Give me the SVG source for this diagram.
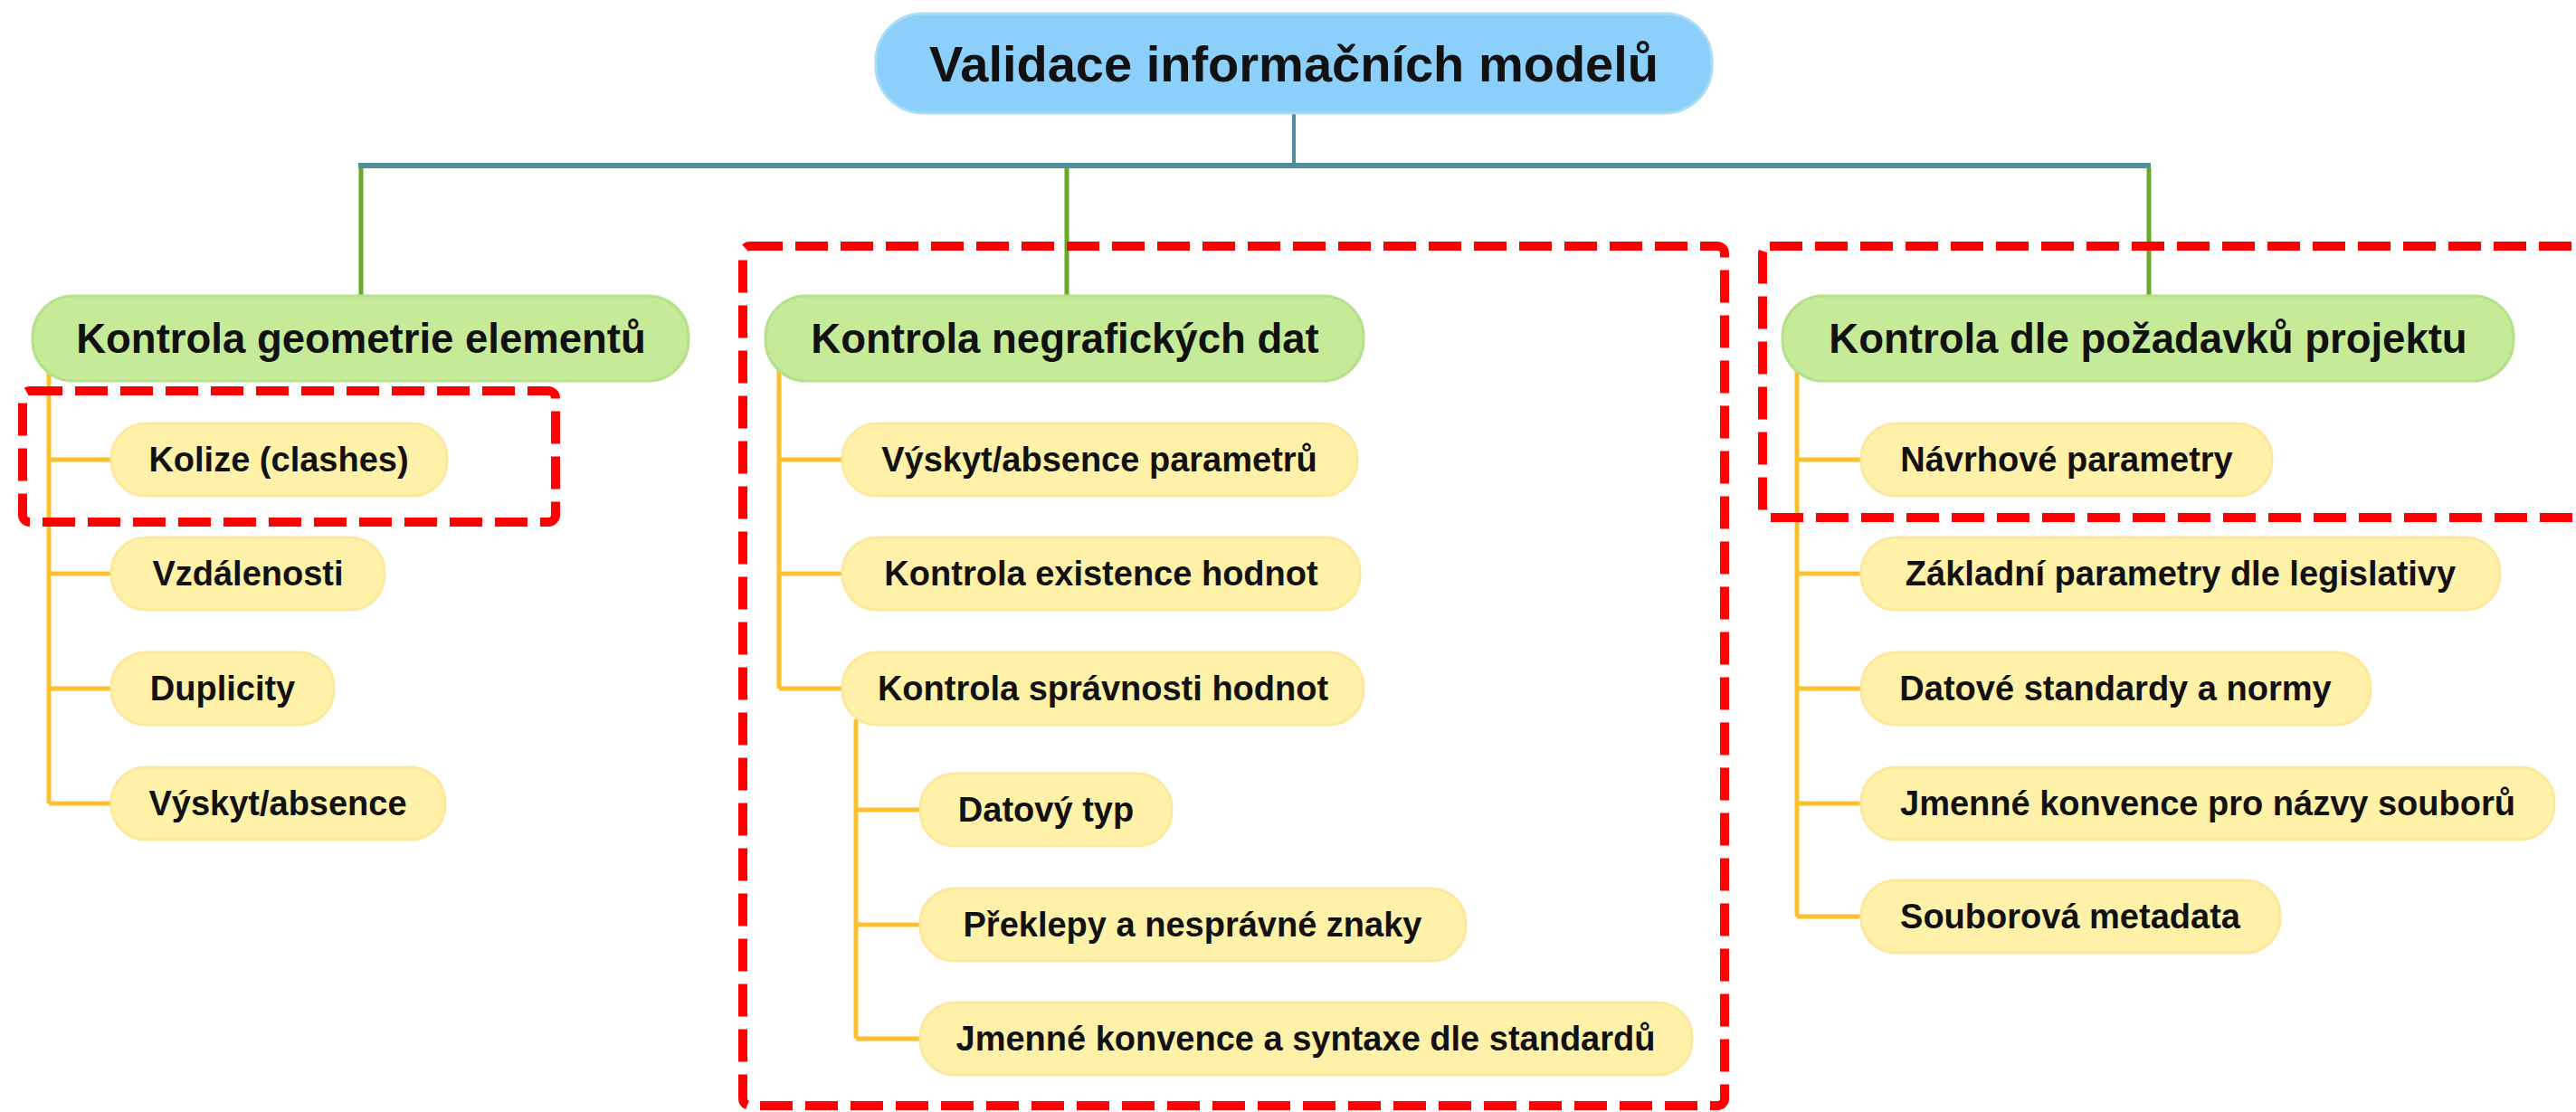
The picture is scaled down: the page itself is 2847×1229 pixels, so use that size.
<svg xmlns="http://www.w3.org/2000/svg" width="2847" height="1229" viewBox="0 0 2847 1229">
<style>
.t{font-family:"Liberation Sans",Arial,sans-serif;font-weight:bold;fill:#111111;text-anchor:middle}
.root rect{fill:#8ccffa;stroke:#a9dcf7;stroke-width:3}
.root text{font-size:56px}
.l1 rect{fill:#c5eb98;stroke:#b8e08c;stroke-width:3}
.l1 text{font-size:45.5px}
.l2 rect{fill:#fff2a8;stroke:#fde8a0;stroke-width:3}
.l2 text{font-size:38px}
.teal{stroke:#4f8e9a;fill:none}
.green{stroke:#6aaa2a;stroke-width:5;fill:none}
.orange{stroke:#fbc02d;stroke-width:5;fill:none}
.box{fill:none;stroke:#ff0000;stroke-width:10;stroke-dasharray:36 14}
</style>
<rect width="2847" height="1229" fill="#ffffff"/>
<g id="connectors">
<line class="teal" x1="1430" y1="125" x2="1430" y2="183" stroke-width="4"/>
<line class="teal" x1="396" y1="183" x2="2377" y2="183" stroke-width="6"/>
<line class="green" x1="399" y1="186" x2="399" y2="327"/>
<line class="green" x1="1179" y1="186" x2="1179" y2="327"/>
<line class="green" x1="2375" y1="186" x2="2375" y2="327"/>
<path class="orange" d="M54 405V888M54 508H123M54 634H123M54 761H123M54 888H123"/>
<path class="orange" d="M861 405V761M861 508H931M861 634H931M861 761H931"/>
<path class="orange" d="M946 795V1148M946 895H1017M946 1022H1017M946 1148H1017"/>
<path class="orange" d="M1986 405V1013M1986 508H2057M1986 634H2057M1986 761H2057M1986 888H2057M1986 1013H2057"/>
</g>
<g id="root" class="root"><rect x="968" y="15" width="924" height="110" rx="52"/><text class="t" x="1430" y="90">Validace informačních modelů</text></g>
<g id="geom" class="l1"><rect x="36" y="327" width="725" height="94" rx="45"/><text class="t" x="399" y="390">Kontrola geometrie elementů</text></g>
<g id="negraf" class="l1"><rect x="846" y="327" width="661" height="94" rx="45"/><text class="t" x="1177" y="390">Kontrola negrafických dat</text></g>
<g id="pozad" class="l1"><rect x="1970" y="327" width="808" height="94" rx="45"/><text class="t" x="2374" y="390">Kontrola dle požadavků projektu</text></g>

<g id="kolize" class="l2"><rect x="123" y="468" width="371" height="80" rx="38"/><text class="t" x="308" y="521">Kolize (clashes)</text></g>
<g id="vzdalenosti" class="l2"><rect x="123" y="594" width="302" height="80" rx="38"/><text class="t" x="274" y="647">Vzdálenosti</text></g>
<g id="duplicity" class="l2"><rect x="123" y="721" width="246" height="80" rx="38"/><text class="t" x="246" y="774">Duplicity</text></g>
<g id="vyskyt" class="l2"><rect x="123" y="848" width="369" height="80" rx="38"/><text class="t" x="307" y="901">Výskyt/absence</text></g>

<g id="vyskytpar" class="l2"><rect x="931" y="468" width="569" height="80" rx="38"/><text class="t" x="1215" y="521">Výskyt/absence parametrů</text></g>
<g id="existence" class="l2"><rect x="931" y="594" width="572" height="80" rx="38"/><text class="t" x="1217" y="647">Kontrola existence hodnot</text></g>
<g id="spravnost" class="l2"><rect x="931" y="721" width="576" height="80" rx="38"/><text class="t" x="1219" y="774">Kontrola správnosti hodnot</text></g>
<g id="datovytyp" class="l2"><rect x="1017" y="855" width="278" height="80" rx="38"/><text class="t" x="1156" y="908">Datový typ</text></g>
<g id="preklepy" class="l2"><rect x="1017" y="982" width="603" height="80" rx="38"/><text class="t" x="1318" y="1035">Překlepy a nesprávné znaky</text></g>
<g id="jmennesyn" class="l2"><rect x="1017" y="1108" width="853" height="80" rx="38"/><text class="t" x="1443" y="1161">Jmenné konvence a syntaxe dle standardů</text></g>

<g id="navrhove" class="l2"><rect x="2057" y="468" width="454" height="80" rx="38"/><text class="t" x="2284" y="521">Návrhové parametry</text></g>
<g id="zakladni" class="l2"><rect x="2057" y="594" width="706" height="80" rx="38"/><text class="t" x="2410" y="647">Základní parametry dle legislativy</text></g>
<g id="datove" class="l2"><rect x="2057" y="721" width="563" height="80" rx="38"/><text class="t" x="2338" y="774">Datové standardy a normy</text></g>
<g id="jmennesoub" class="l2"><rect x="2057" y="848" width="766" height="80" rx="38"/><text class="t" x="2440" y="901">Jmenné konvence pro názvy souborů</text></g>
<g id="metadata" class="l2"><rect x="2057" y="973" width="463" height="80" rx="38"/><text class="t" x="2288" y="1026">Souborová metadata</text></g>

<g id="highlights">
<rect class="box" x="25" y="432" width="589" height="145" rx="8"/>
<rect class="box" x="821" y="272" width="1085" height="950" rx="8"/>
<rect class="box" x="1948" y="272" width="930" height="300" rx="8"/>
</g>
</svg>
